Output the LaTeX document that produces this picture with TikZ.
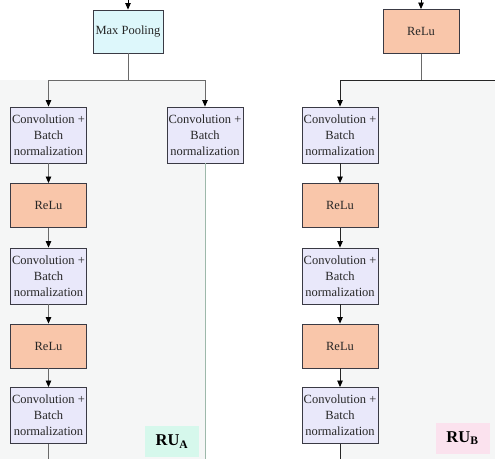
\documentclass[tikz,border=0pt]{standalone}
\usepackage{fontspec}
\setmainfont{Liberation Serif}
\usetikzlibrary{arrows.meta}
\definecolor{bgpanel}{HTML}{F5F6F6}
\definecolor{poolfill}{HTML}{DDF7FB}
\definecolor{convfill}{HTML}{E9E8FA}
\definecolor{relufill}{HTML}{F9C6AA}
\definecolor{boxline}{HTML}{3A3A44}
\definecolor{skipline}{HTML}{9DB8AA}
\definecolor{ruafill}{HTML}{D6F8EC}
\definecolor{rubfill}{HTML}{FBE2EE}
\definecolor{greyline}{HTML}{6A6A6A}
\tikzset{
  blockbox/.style={draw=boxline, line width=0.9pt, align=center, inner sep=1pt,
    font=\fontsize{12.5}{15.8}\selectfont, text=black!85},
  convbox/.style={blockbox, fill=convfill, minimum width=76pt, minimum height=56pt},
  relubox/.style={blockbox, fill=relufill, minimum width=76pt, minimum height=44pt},
  poolbox/.style={blockbox, fill=poolfill, minimum width=70pt, minimum height=43pt},
  conn/.style={line width=0.8pt, -{Triangle[width=5.5pt,length=6.5pt,color=black]}},
  plainconn/.style={line width=0.8pt},
  rulabel/.style={font=\fontsize{16.5}{18}\selectfont\bfseries, minimum width=54pt, minimum height=31pt, inner sep=0pt}
}
\begin{document}
\begin{tikzpicture}[x=1pt,y=-1pt]
\useasboundingbox (0,0) rectangle (495,459);
% panel backgrounds
\fill[bgpanel] (0,80) rectangle (205,459);
\fill[bgpanel] (340,80) rectangle (495,459);

% ---------- left panel ----------
\coordinate (inA) at (128,0);
\node[poolbox] (pool) at (128,31.5) {Max Pooling};
\node[convbox] (ca1) at (48.5,135) {Convolution +\\Batch\\normalization};
\node[relubox] (ra1) at (48.5,205.5) {ReLu};
\node[convbox] (ca2) at (48.5,276) {Convolution +\\Batch\\normalization};
\node[relubox] (ra2) at (48.5,346) {ReLu};
\node[convbox] (ca3) at (48.5,415.5) {Convolution +\\Batch\\normalization};
\node[convbox] (cs) at (205,135) {Convolution +\\Batch\\normalization};
\coordinate (splitA) at (128,80);
\coordinate (endA) at (48.5,459);
\coordinate (endS) at (205,459);

\draw[conn, draw=black] (inA) -- (pool);
\draw[plainconn, draw=greyline] (pool) -- (splitA);
\draw[conn, draw=greyline] (splitA) -| (ca1);
\draw[conn, draw=greyline] (splitA) -| (cs);
\draw[conn, draw=greyline] (ca1) -- (ra1);
\draw[conn, draw=greyline] (ra1) -- (ca2);
\draw[conn, draw=greyline] (ca2) -- (ra2);
\draw[conn, draw=greyline] (ra2) -- (ca3);
\draw[plainconn, draw=greyline] (ca3) -- (endA);
\draw[plainconn, draw=skipline, line width=1pt] (cs) -- (endS);
\node[rulabel, fill=ruafill] (rua) at (172,441.5) {RU\textsubscript{A}};

% ---------- right panel ----------
\coordinate (inB) at (421,0);
\node[relubox] (rb0) at (421,31.5) {ReLu};
\node[convbox] (cb1) at (340,135) {Convolution +\\Batch\\normalization};
\node[relubox] (rb1) at (340,205.5) {ReLu};
\node[convbox] (cb2) at (340,276) {Convolution +\\Batch\\normalization};
\node[relubox] (rb2) at (340,346) {ReLu};
\node[convbox] (cb3) at (340,415.5) {Convolution +\\Batch\\normalization};
\coordinate (splitB) at (421,80);
\coordinate (rightB) at (495,80);
\coordinate (endB) at (340,459);

\draw[conn, draw=black] (inB) -- (rb0);
\draw[plainconn, draw=greyline] (rb0) -- (splitB);
\draw[plainconn, draw=black!85] (splitB) -- (rightB);
\draw[conn, draw=black!85] (splitB) -| (cb1);
\draw[conn, draw=black!85] (cb1) -- (rb1);
\draw[conn, draw=black!85] (rb1) -- (cb2);
\draw[conn, draw=black!85] (cb2) -- (rb2);
\draw[conn, draw=black!85] (rb2) -- (cb3);
\draw[plainconn, draw=black!85] (cb3) -- (endB);
\node[rulabel, fill=rubfill] (rub) at (462.5,438) {RU\textsubscript{B}};
\end{tikzpicture}
\end{document}
